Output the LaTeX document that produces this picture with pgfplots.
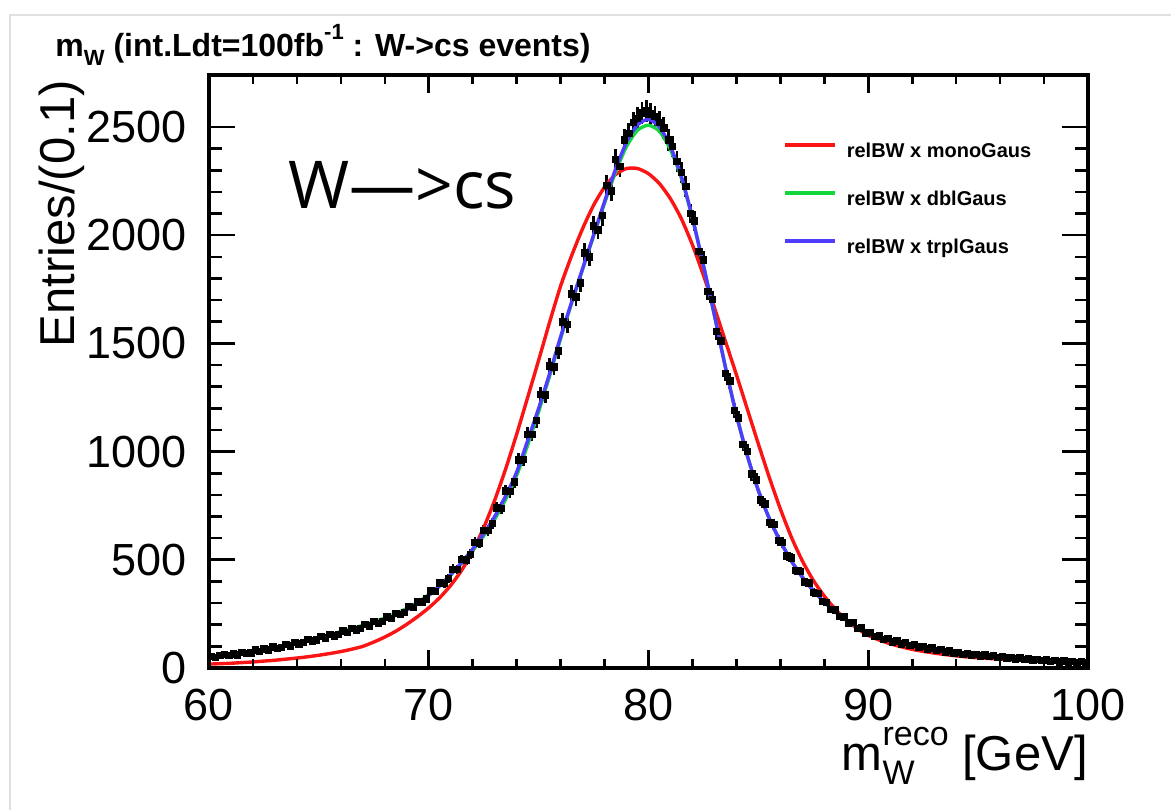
\documentclass[border=0pt]{standalone}
\usepackage{pgfplots}
\pgfplotsset{compat=1.18}
\usepackage{pgfplotstable}
\usepackage{fontspec}
\setmainfont{Liberation Sans}
\newfontfamily\opensans{Open Sans}
\definecolor{rootred}{RGB}{250,20,20}
\definecolor{rootgreen}{RGB}{20,215,60}
\definecolor{rootblue}{RGB}{80,60,255}

\pgfplotstableread{
x y
60.1 54
60.3 49
60.5 59
60.7 62
60.9 57
61.1 66
61.3 61
61.5 73
61.7 68
61.9 70
62.1 83
62.3 77
62.5 88
62.7 84
62.9 97
63.1 91
63.3 96
63.5 109
63.7 103
63.9 117
64.1 111
64.3 118
64.5 132
64.7 126
64.9 130
65.1 146
65.3 140
65.5 155
65.7 149
65.9 154
66.1 172
66.3 165
66.5 184
66.7 177
66.9 183
67.1 202
67.3 195
67.5 214
67.7 207
67.9 214
68.1 237
68.3 230
68.5 253
68.7 248
68.9 256
69.1 284
69.3 279
69.5 306
69.7 305
69.9 320
70.1 356
70.3 354
70.5 393
70.7 391
70.9 414
71.1 457
71.3 455
71.5 502
71.7 500
71.9 526
72.1 581
72.3 578
72.5 637
72.7 636
72.9 668
73.1 740
73.3 738
73.5 818
73.7 815
73.9 860
74.1 962
74.3 965
74.5 1080
74.7 1080
74.9 1145
75.1 1265
75.3 1262
75.5 1395
75.7 1392
75.9 1465
76.1 1600
76.3 1588
76.5 1728
76.7 1715
76.9 1780
77.1 1918
77.3 1900
77.5 2042
77.7 2025
77.9 2090
78.1 2230
78.3 2205
78.5 2350
78.7 2318
78.9 2440
79.1 2470
79.3 2520
79.5 2540
79.7 2565
79.9 2575
80.1 2560
80.3 2548
80.5 2522
80.7 2495
80.9 2440
81.1 2410
81.3 2340
81.5 2290
81.7 2225
81.9 2100
82.1 2065
82.3 1925
82.5 1885
82.7 1740
82.9 1702
83.1 1556
83.3 1512
83.5 1362
83.7 1327
83.9 1190
84.1 1155
84.3 1034
84.5 1002
84.7 896
84.9 870
85.1 776
85.3 758
85.5 672
85.7 663
85.9 590
86.1 580
86.3 518
86.5 508
86.7 452
86.9 446
87.1 398
87.3 393
87.5 349
87.7 346
87.9 307
88.1 304
88.3 270
88.5 268
88.7 238
88.9 237
89.1 209
89.3 210
89.5 184
89.7 185
89.9 163
90.1 164
90.3 146
90.5 149
90.7 132
90.9 136
91.1 121
91.3 126
91.5 112
91.7 117
91.9 104
92.1 109
92.3 97
92.5 101
92.7 89
92.9 93
93.1 81
93.3 85
93.5 75
93.7 79
93.9 69
94.1 73
94.3 64
94.5 68
94.7 60
94.9 64
95.1 56
95.3 61
95.5 53
95.7 57
95.9 49
96.1 53
96.3 46
96.5 50
96.7 43
96.9 46
97.1 40
97.3 43
97.5 37
97.7 40
97.9 34
98.1 37
98.3 31
98.5 34
98.7 29
98.9 32
99.1 28
99.3 31
99.5 27
99.7 30
99.9 26
}\datatab

\pgfplotstableread{
x y
60 18
60.5 20
61 22
61.5 25
62 28
62.5 32
63 36
63.5 41
64 46
64.5 52
65 59
65.5 67
66 76
66.5 87
67 100
67.5 120
68 143
68.5 170
69 202
69.5 238
70 278
70.5 325
71 382
71.5 452
72 540
72.5 648
73 775
73.5 920
74 1080
74.5 1250
75 1422
75.5 1598
76 1765
76.5 1905
77 2030
77.5 2138
78 2222
78.5 2280
79 2308
79.5 2308
80 2284
80.5 2238
81 2168
81.5 2075
82 1955
82.5 1815
83 1665
83.5 1510
84 1355
84.5 1195
85 1035
85.5 880
86 735
86.5 605
87 495
87.5 405
88 332
88.5 272
89 222
89.5 182
90 151
90.5 129
91 112
91.5 98
92 86
92.5 77
93 69
93.5 62
94 56
94.5 51
95 47
95.5 44
96 41
96.5 38
97 36
97.5 34
98 32
98.5 30
99 29
99.5 28
100 27
}\redtab

\pgfplotstableread{
x y
60 48
60.5 54
61 61
61.5 68
62 76
62.5 85
63 95
63.5 105
64 117
64.5 129
65 141
65.5 154
66 168
66.5 182
67 197
67.5 213
68 231
68.5 251
69 275
69.5 304
70 339
70.5 381
71 430
71.5 484
72 543
72.5 610
73 688
73.5 780
74 890
74.5 1030
75 1185
75.5 1350
76 1522
76.5 1686
77 1842
77.5 1996
78 2148
78.5 2292
79 2410
79.5 2485
80 2508
80.5 2480
81 2395
81.5 2262
82 2078
82.5 1860
83 1630
83.5 1390
84 1170
84.5 980
85 820
85.5 690
86 585
86.5 495
87 420
87.5 358
88 305
88.5 260
89 222
89.5 190
90 163
90.5 143
91 128
91.5 116
92 107
92.5 97
93 87
93.5 78
94 71
94.5 65
95 60
95.5 56
96 51
96.5 47
97 43
97.5 39
98 35
98.5 32
99 30
99.5 29
100 28
}\greentab

\pgfplotstableread{
x y
60 50
60.5 56
61 62
61.5 68
62 75
62.5 84
63 93
63.5 103
64 114
64.5 125
65 137
65.5 149
66 162
66.5 176
67 191
67.5 206
68 224
68.5 244
69 268
69.5 298
70 335
70.5 380
71 432
71.5 488
72 550
72.5 620
73 700
73.5 795
74 905
74.5 1050
75 1200
75.5 1360
76 1530
76.5 1690
77 1845
77.5 2000
78 2155
78.5 2305
79 2430
79.5 2510
80 2535
80.5 2500
81 2410
81.5 2270
82 2080
82.5 1860
83 1630
83.5 1390
84 1170
84.5 980
85 820
85.5 690
86 585
86.5 495
87 420
87.5 358
88 305
88.5 260
89 222
89.5 190
90 163
90.5 143
91 128
91.5 116
92 107
92.5 97
93 87
93.5 78
94 71
94.5 65
95 60
95.5 56
96 51
96.5 47
97 43
97.5 39
98 35
98.5 32
99 30
99.5 29
100 28
}\bluetab

\begin{document}
\begin{tikzpicture}
\path[use as bounding box] (0,0) rectangle (585.5pt,405pt);
\fill[white] (0,0) rectangle (585.5pt,405pt);
\draw[black!12, line width=1.2pt] (5pt,0) -- (5pt,397.5pt) -- (585.5pt,397.5pt);

\begin{axis}[
  at={(104.5pt,71pt)}, anchor=south west,
  width=439.5pt, height=296.5pt, scale only axis,
  xmin=60, xmax=100, ymin=0, ymax=2740,
  xtick=\empty,
  ytick={0,500,1000,1500,2000,2500},
  minor y tick num=4,
  major tick length=13pt, minor tick length=6.5pt,
  every tick/.style={line width=1.3pt, black},
  axis line style={line width=1.6pt},
  /pgf/number format/assume math mode=true,
  /pgf/number format/1000 sep={},
  yticklabel style={font=\fontsize{22.5}{26}\selectfont, inner sep=0pt, xshift=-11pt},
  legend style={draw=none, fill=none, at={(rel axis cs:0.653,0.887)}, anchor=north west,
    inner sep=0pt, row sep=14.5pt, column sep=5pt,
    font=\bfseries\fontsize{10}{12}\selectfont,
    nodes={inner sep=0pt, text height=7.5pt, text depth=2pt}},
  legend cell align=left,
  legend image code/.code={\draw[#1] (0pt,3.5pt) -- (25pt,3.5pt);},
]
\addplot[forget plot, black, only marks, mark=square*, mark size=1.6pt,
  error bars/.cd, y dir=both, y explicit, x dir=both, x fixed=0.1,
  error mark=none, error bar style={line width=1.4pt, black}]
  table[x=x, y=y, y error expr={sqrt(\thisrow{y})}] {\datatab};
\addplot[rootred, line width=1.7pt, smooth, tension=0.4] table[x=x,y=y] {\redtab};
\addlegendentry{relBW x monoGaus}
\addplot[rootgreen, line width=1.7pt, smooth, tension=0.4] table[x=x,y=y] {\greentab};
\addlegendentry{relBW x dblGaus}
\addplot[rootblue, line width=1.7pt, smooth, tension=0.4] table[x=x,y=y] {\bluetab};
\addlegendentry{relBW x trplGaus}
\end{axis}

\begin{axis}[
  at={(104.5pt,71pt)}, anchor=south west,
  width=439.5pt, height=296.5pt, scale only axis,
  xmin=60, xmax=100, ymin=0, ymax=2740,
  ytick=\empty,
  xtick={60,70,80,90,100},
  minor x tick num=4,
  major tick length=9pt, minor tick length=4.5pt,
  every tick/.style={line width=1.3pt, black},
  axis line style={line width=1.6pt},
  /pgf/number format/assume math mode=true,
  xticklabel style={font=\fontsize{22.5}{26}\selectfont, inner sep=0pt, yshift=-10.5pt},
]
\end{axis}

\node[anchor=base west, inner sep=0pt, font=\bfseries\fontsize{16}{19}\selectfont] at (27.5pt,376.5pt)
  {m\raisebox{-0.28em}{\fontsize{11}{11}\selectfont W} (int.Ldt=100fb\raisebox{0.55em}{\fontsize{11}{11}\selectfont -1} : W->cs events)};
\node[anchor=base west, inner sep=0pt, font=\opensans\fontsize{33}{38}\selectfont] at (144pt,301pt) {W—>cs};
\node[rotate=90, anchor=south east, inner sep=0pt, font=\fontsize{24.5}{29}\selectfont] at (42.5pt,365pt) {Entries/(0.1)};
\node[anchor=base east, inner sep=0pt, font=\fontsize{24.5}{28}\selectfont] at (544pt,20pt)
  {m\rlap{\raisebox{-0.3em}{\fontsize{17}{17}\selectfont W}}\raisebox{0.5em}{\fontsize{17}{17}\selectfont reco} [GeV]};
\end{tikzpicture}
\end{document}
